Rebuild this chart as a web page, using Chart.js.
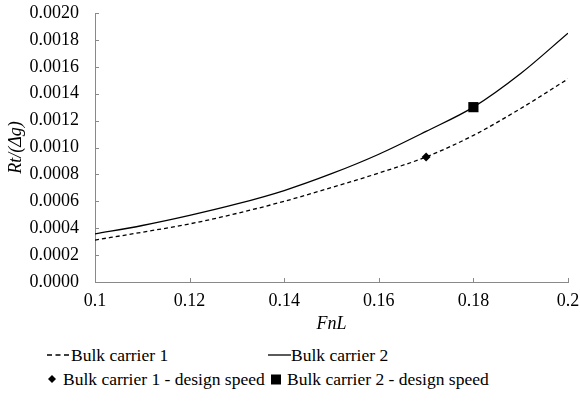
<!DOCTYPE html>
<html>
<head>
<meta charset="utf-8">
<script src="https://cdn.jsdelivr.net/npm/chart.js@4.4.0/dist/chart.umd.min.js"></script>
<style>
  html, body { margin: 0; padding: 0; background: #fff; }
  #wrap { position: relative; width: 580px; height: 405px; font-family: "Liberation Serif", Tinos, "DejaVu Serif", serif; color: #000; }
  #chart-box { position: absolute; left: 0; top: 0; width: 580px; height: 335px; }
  .leg { position: absolute; font-size: 17.5px; line-height: 20px; white-space: nowrap; }
  .leg svg { position: absolute; }
</style>
</head>
<body>
<div id="wrap">
  <div id="chart-box"><canvas id="chart"></canvas></div>
  <div id="legend"></div>
</div>
<script>
// data
const fnl = [0.10, 0.11, 0.12, 0.13, 0.14, 0.15, 0.16, 0.17, 0.18, 0.19, 0.20];
const bulk1 = [0.000312, 0.00037, 0.000432, 0.00051, 0.0006, 0.000702, 0.00081, 0.00093, 0.00109, 0.00129, 0.00151];
const bulk2 = [0.000357, 0.00042, 0.000495, 0.00058, 0.00068, 0.000805, 0.00095, 0.00112, 0.0013, 0.00155, 0.00185];
const design1 = [0.17, 0.00093];
const design2 = [0.18, 0.0013];
const xTicks = [0.1, 0.12, 0.14, 0.16, 0.18, 0.2];
const xTickLabels = ["0.1", "0.12", "0.14", "0.16", "0.18", "0.2"];
const yMax = 0.002;
const yStep = 0.0002;
const seriesNames = ["Bulk carrier 1", "Bulk carrier 2", "Bulk carrier 1 - design speed", "Bulk carrier 2 - design speed"];

const axisGrey = "#898989";
const serif = "'Liberation Serif', Tinos, 'DejaVu Serif', serif";

// small tick marks pointing into the plot, like the original
const innerTicks = {
  id: "innerTicks",
  afterDraw(chart) {
    const { ctx, chartArea, scales } = chart;
    ctx.save();
    ctx.strokeStyle = axisGrey;
    ctx.lineWidth = 1;
    ctx.beginPath();
    scales.y.ticks.forEach(t => {
      const py = Math.round(scales.y.getPixelForValue(t.value)) + 0.5;
      ctx.moveTo(chartArea.left, py);
      ctx.lineTo(chartArea.left + 4, py);
    });
    scales.x.ticks.forEach(t => {
      const px = Math.round(scales.x.getPixelForValue(t.value)) + 0.5;
      ctx.moveTo(px, chartArea.bottom);
      ctx.lineTo(px, chartArea.bottom - 4);
    });
    ctx.stroke();
    ctx.restore();
  }
};

const toPts = (xs, ys) => xs.map((x, i) => ({ x: x, y: ys[i] }));

new Chart(document.getElementById("chart"), {
  type: "line",
  data: {
    datasets: [
      {
        label: seriesNames[0],
        data: toPts(fnl, bulk1),
        borderColor: "#000",
        borderWidth: 1.3,
        borderDash: [4, 3],
        pointRadius: 0,
        cubicInterpolationMode: "monotone"
      },
      {
        label: seriesNames[1],
        data: toPts(fnl, bulk2),
        borderColor: "#000",
        borderWidth: 1.3,
        pointRadius: 0,
        cubicInterpolationMode: "monotone"
      },
      {
        type: "scatter",
        label: seriesNames[2],
        data: [{ x: design1[0], y: design1[1] }],
        pointStyle: "rectRot",
        pointRadius: 4.5,
        backgroundColor: "#000",
        borderColor: "#000",
        borderWidth: 0
      },
      {
        type: "scatter",
        label: seriesNames[3],
        data: [{ x: design2[0], y: design2[1] }],
        pointStyle: "rect",
        pointRadius: 7.2,
        backgroundColor: "#000",
        borderColor: "#000",
        borderWidth: 0
      }
    ]
  },
  options: {
    responsive: true,
    maintainAspectRatio: false,
    animation: false,
    layout: { autoPadding: false, padding: { top: 13, right: 12, bottom: 0, left: 0 } },
    plugins: { legend: { display: false }, tooltip: { enabled: false } },
    scales: {
      x: {
        type: "linear",
        min: xTicks[0],
        max: xTicks[xTicks.length - 1],
        afterBuildTicks: s => { s.ticks = xTicks.map(v => ({ value: v })); },
        afterFit: s => {
          s.height = 53;
          s.paddingLeft = 0;
          s.paddingRight = 0;
        },
        grid: { display: false, drawTicks: false },
        border: { display: true, color: axisGrey, width: 1 },
        ticks: {
          padding: 8,
          maxRotation: 0,
          color: "#000",
          font: { family: serif, size: 18 },
          callback: (v, i) => xTickLabels[i]
        },
        title: {
          display: true,
          text: "FnL",
          color: "#000",
          padding: { top: 0, bottom: 0 },
          font: { family: serif, size: 18, style: "italic" }
        }
      },
      y: {
        min: 0,
        max: yMax,
        afterFit: s => {
          s.width = 95;
          s.paddingTop = 0;
          s.paddingBottom = 0;
        },
        grid: { display: false, drawTicks: false },
        border: { display: true, color: axisGrey, width: 1 },
        ticks: {
          stepSize: yStep,
          padding: 16,
          color: "#000",
          font: { family: serif, size: 18 },
          callback: v => v.toFixed(4)
        },
        title: {
          display: true,
          text: "Rt/(\u0394g)",
          color: "#000",
          padding: { top: 5, bottom: 0 },
          font: { family: serif, size: 18, style: "italic" }
        }
      }
    }
  },
  plugins: [innerTicks]
});

// legend laid out in two columns, like the original
const legend = document.getElementById("legend");
const items = [
  { x: 47, y: 345, w: 24, mark: '<line x1="0" y1="10" x2="22" y2="10" stroke="#000" stroke-width="1.3" stroke-dasharray="5,3.5"/>', text: seriesNames[0] },
  { x: 268, y: 345, w: 23, mark: '<line x1="0" y1="10" x2="23" y2="10" stroke="#000" stroke-width="1.3"/>', text: seriesNames[1] },
  { x: 47, y: 369, w: 16, mark: '<polygon points="5,6 9,10 5,14 1,10" fill="#000"/>', text: seriesNames[2] },
  { x: 270, y: 369, w: 17, mark: '<rect x="1" y="5.5" width="10" height="10" fill="#000"/>', text: seriesNames[3] }
];
items.forEach(it => {
  const el = document.createElement("div");
  el.className = "leg";
  el.style.left = it.x + "px";
  el.style.top = it.y + "px";
  el.style.paddingLeft = it.w + "px";
  el.innerHTML = '<svg width="' + it.w + '" height="20" style="left:0;top:0">' + it.mark + '</svg>';
  el.appendChild(document.createTextNode(it.text));
  legend.appendChild(el);
});
</script>
</body>
</html>
